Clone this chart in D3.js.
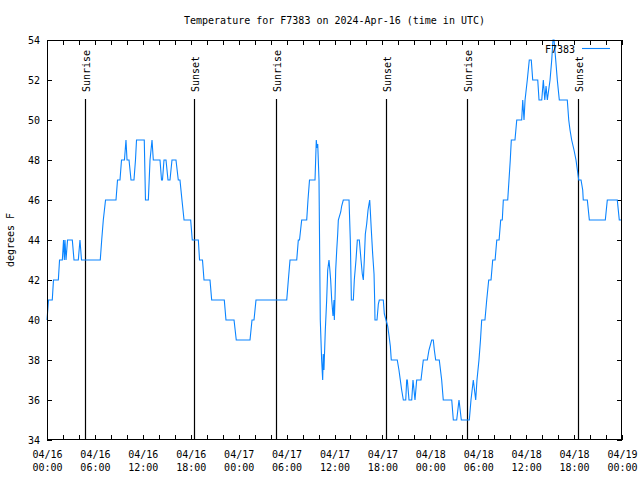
<!DOCTYPE html>
<html>
<head>
<meta charset="utf-8">
<script src="https://cdn.jsdelivr.net/npm/d3@7"></script>
<style>
  body { margin: 0; background: #fff; }
  svg { display: block; }
  text { font-family: "DejaVu Sans Mono", monospace; font-size: 10px; fill: #000; }
</style>
</head>
<body>
<svg id="chart" width="640" height="480"></svg>
<script>
// Hours since 2024-04-16 00:00 UTC
const hours = [
  0.00,0.19,0.66,0.81,1.42,1.57,1.92,2.07,2.17,2.25,2.38,2.57,3.17,3.38,3.92,4.13,4.32,6.67,6.85,7.05,
  7.33,8.64,8.83,9.14,9.33,9.70,9.89,10.02,10.27,10.52,10.89,11.08,11.21,12.18,12.33,12.69,12.90,13.15,13.31,14.15,
  14.34,14.46,14.65,14.90,15.15,15.40,15.65,16.15,16.44,16.65,16.90,17.16,17.99,18.19,18.95,19.10,19.47,19.66,20.41,20.62,
  22.20,22.41,23.42,23.70,25.42,25.67,25.92,26.17,30.02,30.22,30.43,31.27,31.47,31.62,31.89,32.52,32.68,32.87,33.56,33.72,
  33.81,33.90,34.06,34.22,34.39,34.52,34.59,34.68,34.85,35.02,35.15,35.31,35.40,35.52,35.65,35.81,35.94,35.98,36.06,36.15,
  36.28,36.40,36.48,36.78,36.90,37.10,37.82,37.98,38.07,38.11,38.36,38.48,38.69,38.86,39.11,39.32,39.48,39.61,39.73,39.86,
  40.03,40.20,40.32,40.41,40.48,40.61,40.78,40.95,41.04,41.07,41.32,41.49,41.61,42.11,42.24,42.45,42.66,42.83,42.99,43.11,
  43.86,44.07,44.24,44.41,44.62,44.92,45.04,45.12,45.33,45.67,45.83,46.08,46.29,46.83,47.12,47.62,47.83,48.17,48.37,48.50,
  48.67,49.12,49.42,49.62,50.68,50.88,51.30,51.59,51.88,52.88,53.09,53.38,53.68,53.84,54.09,54.28,54.43,54.84,55.06,55.31,
  55.60,55.81,56.11,56.32,56.61,56.81,57.01,57.14,57.69,57.85,58.01,58.14,58.60,58.82,59.44,59.57,59.73,59.86,60.14,60.39,
  60.64,60.82,61.45,61.61,61.95,62.15,62.33,62.49,62.65,62.99,63.20,63.36,63.49,63.70,63.90,64.15,65.15,65.33,65.49,65.70,
  65.99,66.24,66.41,66.58,66.87,67.08,67.15,67.66,67.91,69.91,70.16,71.41,71.66,72.00
];
const temps = [
  40,41,41,42,42,43,43,44,43,44,43,44,44,43,43,44,43,43,44,45,
  46,46,47,47,48,48,49,48,48,47,47,48,49,49,46,46,48,49,48,48,
  47,47,48,48,47,47,48,48,47,47,46,45,45,44,44,43,43,42,42,41,
  41,40,40,39,39,40,40,41,41,42,43,43,44,44,45,45,46,47,47,49,
  48.6,48.8,47,40,38,37,38.3,37.5,39.5,41,42.5,43,42.6,42,41,40.2,41,40,41,42.5,
  43.5,44.3,45,45.4,45.7,46,46,44,42,41,41,42,43,44,44,43,42.3,42,43,44.3,
  44.8,45.5,45.8,46,45.5,44.5,43.3,42.3,40.8,40,40,40.8,41,41,40.3,40,39.7,39.2,38.7,38,
  38,37.5,37,36.5,36,36,37,37,36,36,37,36,37,37,38,38,38.5,39,39,38.5,
  38,38,37,36,36,35,35,36,35,35,36,37,36,37,38,39,40,40,41,42,
  42,43,43,44,44,45,45,46,46,47,48,49,49,50,50,51,50,51,52,53,
  53,52,52,51,51,52,51,51.7,51,52,53,54,54,53,52,51,51,50,49.5,49,
  48.5,48,47.5,47,47,46.5,46,46,45,45,46,46,45,45
];
const sunLabels = ["Sunrise","Sunset","Sunrise","Sunset","Sunrise","Sunset"];
const sunHours  = [4.76, 18.41, 28.68, 42.45, 52.59, 66.49];
const yTicks = [34,36,38,40,42,44,46,48,50,52,54];
const seriesName = "F7383";
const titleText = "Temperature for F7383 on 2024-Apr-16 (time in UTC)";
const yLabel = "degrees F";

const t0 = Date.UTC(2024, 3, 16);
const toDate = h => new Date(t0 + h * 3600e3);

const svg = d3.select("#chart");
const L = 47, R = 622, T = 40, B = 440;
const x = d3.scaleUtc().domain([toDate(0), toDate(72)]).range([L, R]);
const y = d3.scaleLinear().domain([34, 54]).range([B, T]);

// title
svg.append("text").attr("x", (L + R) / 2).attr("y", 24)
  .attr("text-anchor", "middle").text(titleText);
// y label
svg.append("text").attr("transform", `translate(14,${(T + B) / 2}) rotate(-90)`)
  .attr("text-anchor", "middle").text(yLabel);

const fmtD = d3.utcFormat("%m/%d"), fmtT = d3.utcFormat("%H:%M");
const tick2 = d3.utcHour.every(2);

// bottom ticks
svg.append("g").attr("transform", `translate(0,${B})`)
  .call(d3.axisBottom(x).ticks(tick2).tickSizeInner(-5).tickSizeOuter(0).tickFormat(""))
  .call(g => g.select(".domain").remove());
// top ticks
svg.append("g").attr("transform", `translate(0,${T})`)
  .call(d3.axisTop(x).ticks(tick2).tickSizeInner(-5).tickSizeOuter(0).tickFormat(""))
  .call(g => g.select(".domain").remove());
// bottom labels
const lab = svg.append("g").attr("transform", `translate(0,${B})`)
  .call(d3.axisBottom(x).ticks(d3.utcHour.every(6)).tickSize(0).tickFormat(""));
lab.select(".domain").remove();
lab.selectAll(".tick").each(function(d) {
  const t = d3.select(this).append("text").attr("text-anchor", "middle")
    .style("font-family", '"DejaVu Sans Mono", monospace').style("font-size", "10px").attr("fill", "#000");
  t.append("tspan").attr("x", 0).attr("y", 18).text(fmtD(d));
  t.append("tspan").attr("x", 0).attr("y", 31).text(fmtT(d));
});
// left axis
svg.append("g").attr("transform", `translate(${L},0)`)
  .call(d3.axisLeft(y).tickValues(yTicks).tickSizeInner(-5).tickSizeOuter(0).tickPadding(7).tickFormat(d3.format("d")))
  .call(g => g.select(".domain").remove())
  .call(g => g.selectAll("text").style("font-family", '"DejaVu Sans Mono", monospace').style("font-size", "10px"));
// right ticks
svg.append("g").attr("transform", `translate(${R},0)`)
  .call(d3.axisRight(y).tickValues(yTicks).tickSizeInner(-5).tickSizeOuter(0).tickFormat(""))
  .call(g => g.select(".domain").remove());
svg.selectAll(".tick line").attr("stroke", "#000").attr("shape-rendering", "crispEdges");

// sun lines
sunHours.forEach((h, i) => {
  const xp = Math.round(x(toDate(h))) + 0.5;
  svg.append("line").attr("x1", xp).attr("x2", xp).attr("y1", y(51.05)).attr("y2", B)
    .attr("stroke", "#000").attr("stroke-width", 1.2);
  svg.append("text").attr("transform", `translate(${xp + 4},${y(51.4)}) rotate(-90)`)
    .text(sunLabels[i]);
});

// data line
const data = hours.map((h, i) => ({ t: toDate(h), v: temps[i] }));
svg.append("path").datum(data)
  .attr("fill", "none").attr("stroke", "#0a84ff").attr("stroke-width", 1.1)
  .attr("d", d3.line().x(d => x(d.t)).y(d => y(d.v)));

// legend
svg.append("text").attr("x", 575).attr("y", 53).attr("text-anchor", "end").text(seriesName);
svg.append("line").attr("x1", 582).attr("x2", 610).attr("y1", 48.5).attr("y2", 48.5)
  .attr("stroke", "#0a84ff").attr("stroke-width", 1.1);

// frame
svg.append("rect").attr("x", L + 0.5).attr("y", T + 0.5).attr("width", R - L - 1).attr("height", B - T - 1)
  .attr("fill", "none").attr("stroke", "#000").attr("stroke-width", 1).attr("shape-rendering", "crispEdges");
</script>
</body>
</html>
